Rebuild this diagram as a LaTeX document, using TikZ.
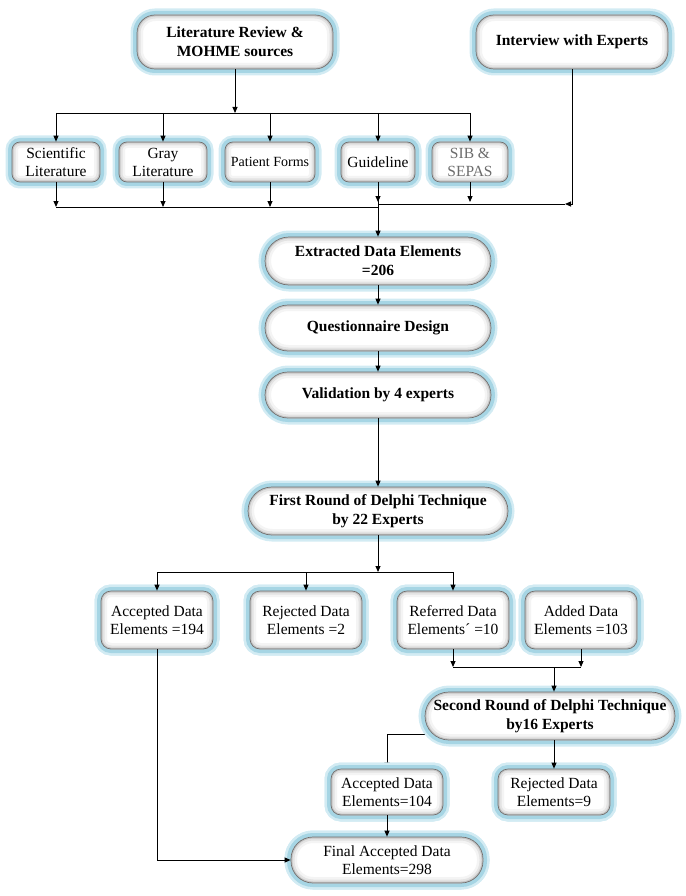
\documentclass[tikz,border=0pt]{standalone}
\usepackage{fontspec}
\setmainfont{Liberation Serif}
\usetikzlibrary{arrows.meta,backgrounds,calc}
\definecolor{glowc}{RGB}{166,213,228}
\definecolor{glowl}{RGB}{210,235,243}
\definecolor{edgec}{RGB}{110,110,110}
\tikzset{
 gbox/.style={draw=edgec, line width=0.7pt, fill=white, rounded corners=#1, align=center, inner sep=0pt,
   preaction={draw=glowl, line width=13pt},
   preaction={draw=glowc, line width=8pt},
   path picture={
     \draw[rounded corners=#1, line width=12pt, draw=gray!9] (path picture bounding box.south west) rectangle (path picture bounding box.north east);
     \draw[rounded corners=#1, line width=7pt, draw=gray!22] (path picture bounding box.south west) rectangle (path picture bounding box.north east);
     \draw[rounded corners=#1, line width=3pt, draw=gray!45] (path picture bounding box.south west) rectangle (path picture bounding box.north east);
   }},
 bigbox/.style={gbox=#1, font=\fontsize{15.5}{19}\selectfont\bfseries},
 smallbox/.style={gbox=8pt, font=\fontsize{15.5}{18}\selectfont},
 arr/.style={-{Triangle[length=6pt,width=5pt]}, line width=0.9pt},
 ln/.style={line width=0.9pt}
}
\begin{document}
\begin{tikzpicture}[x=1pt,y=-1pt]
\useasboundingbox (0,0) rectangle (685,896);
% top row
\node[bigbox=18pt, minimum width=196pt, minimum height=54pt] (lit) at (235,42) {Literature Review \&\\MOHME sources};
\node[bigbox=18pt, minimum width=192pt, minimum height=54pt] (interview) at (572,42) {Interview with Experts};
% sources
\node[smallbox, minimum width=88pt, minimum height=40pt] (sci) at (56,162) {Scientific\\Literature};
\node[smallbox, minimum width=88pt, minimum height=40pt] (gray) at (163,162) {Gray\\Literature};
\node[smallbox, minimum width=90pt, minimum height=40pt, font=\fontsize{14}{17}\selectfont] (patient) at (270,162) {Patient Forms};
\node[smallbox, minimum width=74pt, minimum height=40pt] (guide) at (378,162) {Guideline};
\node[smallbox, minimum width=76pt, minimum height=40pt, text=gray!85!black] (sib) at (470,162) {SIB \&\\SEPAS};
% main column
\node[bigbox=24pt, minimum width=226pt, minimum height=48pt] (extracted) at (378,261) {Extracted Data Elements\\=206};
\node[bigbox=23pt, minimum width=226pt, minimum height=46pt] (quest) at (378,328) {Questionnaire Design};
\node[bigbox=23pt, minimum width=226pt, minimum height=46pt] (valid) at (378,395) {Validation by 4 experts};
\node[bigbox=24pt, minimum width=260pt, minimum height=48pt] (first) at (378,511) {First Round of Delphi Technique\\by 22 Experts};
% first round results
\node[smallbox, gbox=10pt, minimum width=112pt, minimum height=58pt] (acc1) at (157,620) {Accepted Data\\Elements =194};
\node[smallbox, gbox=10pt, minimum width=112pt, minimum height=58pt] (rej1) at (306,620) {Rejected Data\\Elements =2};
\node[smallbox, gbox=10pt, minimum width=112pt, minimum height=58pt] (ref) at (453,620) {Referred Data\\Elements´ =10};
\node[smallbox, gbox=10pt, minimum width=112pt, minimum height=58pt] (add) at (581,620) {Added Data\\Elements =103};
% second round
\node[bigbox=24pt, minimum width=250pt, minimum height=48pt] (second) at (550,716) {Second Round of Delphi Technique\\by16 Experts};
\node[smallbox, gbox=10pt, minimum width=112pt, minimum height=46pt] (acc2) at (387,792) {Accepted Data\\Elements=104};
\node[smallbox, gbox=10pt, minimum width=112pt, minimum height=46pt] (rej2) at (554,792) {Rejected Data\\Elements=9};
\node[smallbox, gbox=22pt, minimum width=192pt, minimum height=46pt] (final) at (387,860) {Final Accepted Data\\Elements=298};
% connectors top
\coordinate (b1) at (235,113);
\draw[arr] (lit) -- (b1);
\draw[ln] (sci.north |- b1) -- (sib.north |- b1);
\foreach \n in {sci,gray,patient,guide,sib} \draw[arr] (\n.north |- b1) -- (\n.north);
\coordinate (b2) at (378,207);
\coordinate (b3) at (378,204);
\coordinate (ib) at (565,204);
\draw[ln] (sci.south |- b2) -- (b2);
\foreach \n in {sci,gray,patient} \draw[arr] (\n.south) -- (\n.south |- b2);
\draw[arr] (guide.south) -- ($(guide.south |- b3)+(0,-2)$);
\draw[ln] (guide.south) -- (b2);
\draw[arr] (sib.south) -- ($(sib.south |- b3)+(0,-2)$);
\draw[arr] (interview.south) |- (ib);
\draw[ln] (ib) -- (b3);
\draw[arr] (b2) -- (extracted.north);
\draw[arr] (extracted) -- (quest);
\draw[arr] (quest) -- (valid);
\draw[arr] (valid) -- (first);
% first round split
\coordinate (b4) at (378,572);
\draw[arr] (first) -- (b4);
\draw[ln] (acc1.north |- b4) -- (ref.north |- b4);
\foreach \n in {acc1,rej1,ref} \draw[arr] (\n.north |- b4) -- (\n.north);
% merge to second
\coordinate (b5) at (554,667);
\draw[arr] (ref.south) -- (ref.south |- b5);
\draw[arr] (add.south) -- (add.south |- b5);
\draw[ln] (ref.south |- b5) -- (add.south |- b5);
\draw[arr] (b5) -- (b5 |- second.north);
% second round split
\begin{scope}[on background layer]
\draw[arr] ([yshift=-18pt]second.center) -| (acc2.north);
\end{scope}
\draw[arr] (second.south -| rej2) -- (rej2.north);
\draw[arr] (acc2) -- (final);
\draw[arr] (acc1.south) |- (final.west);
\end{tikzpicture}
\end{document}
